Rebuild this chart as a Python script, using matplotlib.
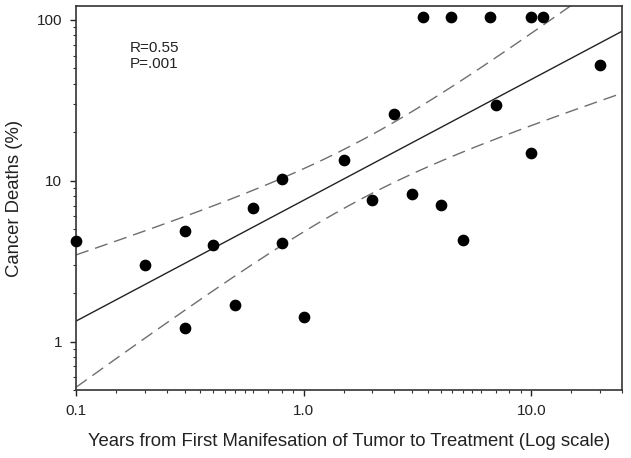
import numpy as np
import matplotlib
matplotlib.use("Agg")
import matplotlib.pyplot as plt
from matplotlib.ticker import FixedLocator, NullFormatter

plt.rcParams['font.family'] = ['Liberation Sans', 'DejaVu Sans']

# years from first manifestation -> cancer deaths (%)
years = [0.1, 0.2, 0.3, 0.3, 0.4, 0.5, 0.6, 0.8, 0.8, 1.0,
         1.5, 2.0, 2.5, 3.0, 3.35, 4.0, 4.45, 5.0, 6.6, 7.0,
         10.0, 10.0, 11.2, 20.0]
deaths = [4.2, 3.0, 4.9, 1.22, 4.0, 1.68, 6.8, 10.2, 4.1, 1.43,
          13.4, 7.6, 25.9, 8.3, 104, 7.1, 104, 4.3, 104, 29.5,
          104, 14.8, 104, 52.5]

stats_text = "R=0.55\nP=.001"

# ---- regressao log-log + banda de confianca 95% ----
lx = np.log10(years)
ly = np.log10(deaths)
n = len(lx)
b, a = np.polyfit(lx, ly, 1)
res = ly - (a + b * lx)
s = np.sqrt(np.sum(res**2) / (n - 2))
sxx = np.sum((lx - lx.mean())**2)
t = 2.074  # t(0.975, 22)

xg = np.linspace(np.log10(0.1), np.log10(25), 200)
yfit = a + b * xg
half = t * s * np.sqrt(1.0/n + (xg - lx.mean())**2 / sxx)

fig = plt.figure(figsize=(6.31, 4.58), dpi=100)
ax = fig.add_axes([76/631, 1 - 390/458, 546/631, 384/458])

ax.plot(10**xg, 10**yfit, color="#222222", lw=1.0, zorder=2)
for sign in (1, -1):
    ax.plot(10**xg, 10**(yfit + sign*half), color="#6e6e6e", lw=1.0,
            dashes=(9.5, 5), zorder=2)
ax.scatter(years, deaths, s=55, color="black", zorder=3, clip_on=False)

ax.set_xscale("log")
ax.set_yscale("log")
ax.set_xlim(0.1, 25)
ax.set_ylim(0.5, 122)

ax.xaxis.set_major_locator(FixedLocator([0.1, 1.0, 10.0]))
ax.set_xticklabels(["0.1", "1.0", "10.0"])
xminor = [m * d for d in (0.1, 1.0, 10.0)
          for m in (1.5, 2, 2.5, 3, 3.5, 4, 4.5, 5, 5.5, 6, 7, 8, 9)]
ax.xaxis.set_minor_locator(FixedLocator([v for v in xminor if v <= 25]))
ax.xaxis.set_minor_formatter(NullFormatter())

ax.yaxis.set_major_locator(FixedLocator([1, 10, 100]))
ax.set_yticklabels(["1", "10", "100"])
yminor = [m * d for d in (0.1, 1.0, 10.0) for m in range(2, 10)]
ax.yaxis.set_minor_locator(FixedLocator([v for v in yminor if 0.5 <= v <= 122]))
ax.yaxis.set_minor_formatter(NullFormatter())

ax.tick_params(which="major", direction="out", length=4.5, width=1.0,
               labelsize=11, colors="#222222", pad=5.5)
ax.tick_params(which="minor", direction="out", length=2.3, width=0.8,
               colors="#333333")
ax.tick_params(top=False, right=False, which="both")
for sp in ax.spines.values():
    sp.set_linewidth(1.2)
    sp.set_color("#333333")

ax.text(0.099, 0.87, stats_text, transform=ax.transAxes, ha="left",
        va="center", fontsize=11, linespacing=1.2, color="#222222")

ax.set_xlabel("Years from First Manifesation of Tumor to Treatment (Log scale)",
              fontsize=13.3, color="#222222", labelpad=11)
ax.set_ylabel("Cancer Deaths (%)", fontsize=13.3, color="#222222")
ax.yaxis.set_label_coords(-0.097, 0.5)

fig.savefig("out.png", dpi=100)
